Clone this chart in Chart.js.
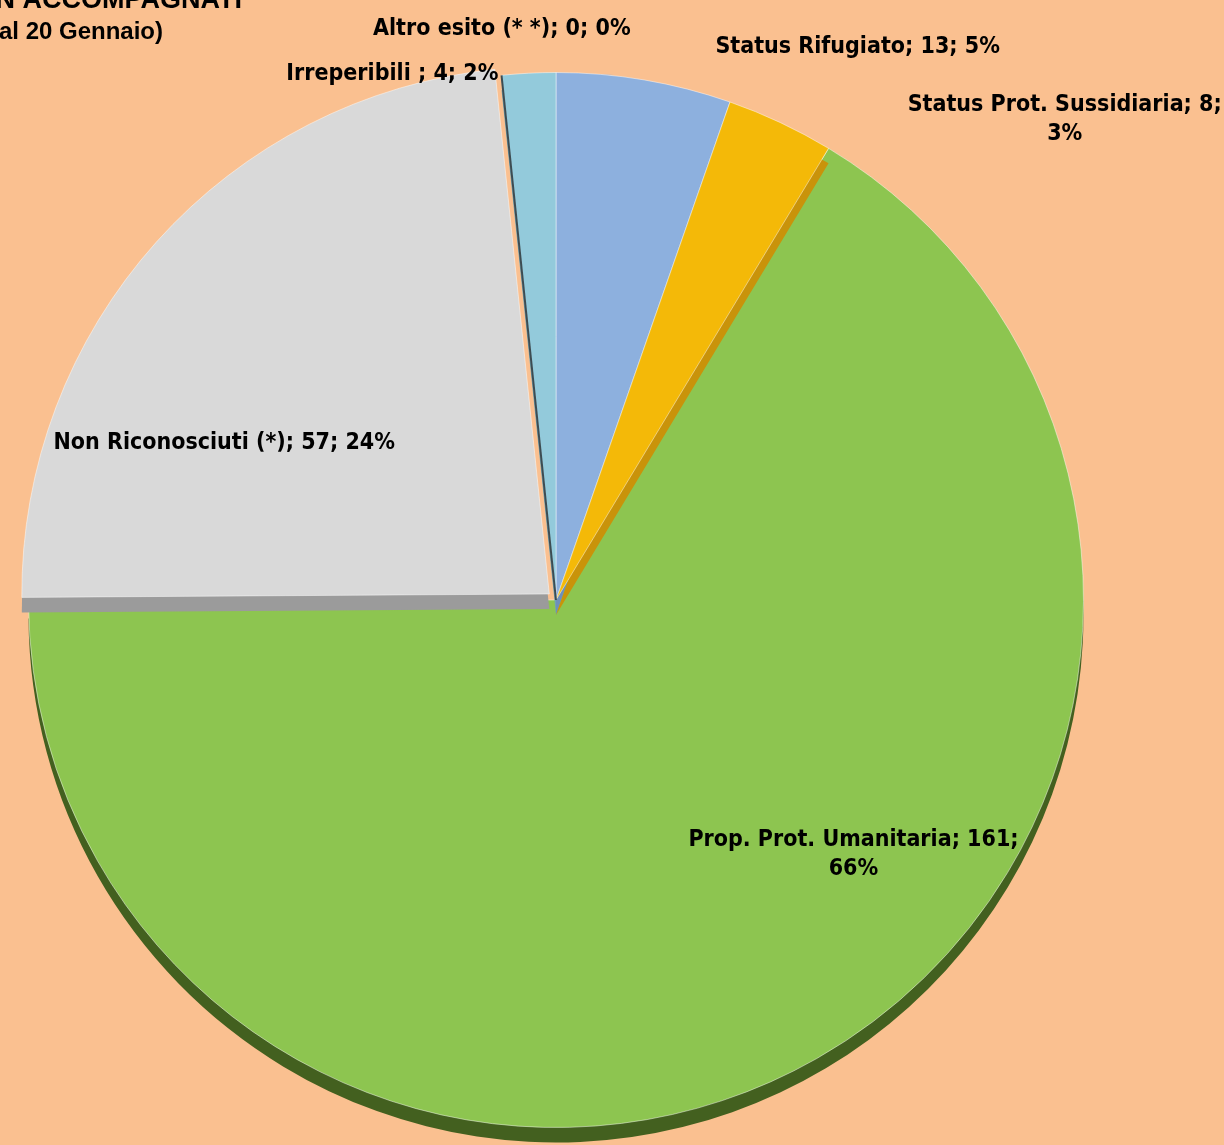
<!DOCTYPE html>
<html lang="it">
<head>
  <meta charset="UTF-8" />
  <title>Esiti minori non accompagnati</title>
  <script src="https://cdn.jsdelivr.net/npm/chart.js"></script>
  <style>
    body {
      margin: 0;
      background: #fac090;
    }
    #wrap {
      position: relative;
      width: 1224px;
      height: 1145px;
    }
  </style>
</head>
<body>

<div id="wrap">
  <canvas id="esitiChart"></canvas>
</div>

<script>
  // data, clockwise from 12 o'clock
  const categories = ['Status Rifugiato', 'Status Prot. Sussidiaria', 'Prop. Prot. Umanitaria',
                      'Non Riconosciuti (*)', 'Altro esito (* *)', 'Irreperibili '];
  const counts = [13, 8, 161, 57, 0, 4];
  const percents = ['5%', '3%', '66%', '24%', '0%', '2%'];
  const titleLines = ['ESITI MINORI NON ACCOMPAGNATI', '(dati al 20 Gennaio)'];

  // styles
  const sliceColors = ['#8db0de', '#f4b908', '#8dc550', '#d9d9d9', '#3d4c52', '#93cadb'];
  const sideColors  = ['#6e8fbb', '#c9930a', '#43601f', '#9b9b9b', '#3d4c52', '#6fa3b3'];
  const explode     = [0, 0, 0, 9, 0, 0];
  const drawOrder = [2, 0, 1, 3, 5, 4];
  const DEPTH = 15;
  const FONT = 'bold 23px "Liberation Sans Narrow", "DejaVu Sans Condensed", "Liberation Sans", sans-serif';

  // label anchor: [radius factor, dx, dy, split after 2nd ';']
  const labelAnchors = [
    [1.05, 209, -7, false],
    [1.05, 273, 21, true],
    [0.6, 141, -21, true],
    [0.6, -96, 54, false],
    [1.05, 3, -20, false],
    [1.05, -135, 27, false]
  ];

  const depth3d = {
    id: 'depth3d',
    beforeDatasetDraw(chart) {
      const ctx = chart.ctx;
      const arcs = chart.getDatasetMeta(0).data;
      drawOrder.forEach(i => {
        const arc = arcs[i];
        const p = arc.getProps(['x', 'y', 'startAngle', 'endAngle', 'outerRadius']);
        const mid = (p.startAngle + p.endAngle) / 2;
        ctx.save();
        ctx.translate(Math.cos(mid) * explode[i], Math.sin(mid) * explode[i]);
        if (p.endAngle - p.startAngle < 1e-6) {
          // zero slice: only a thin dark edge
          ctx.strokeStyle = sideColors[i];
          ctx.lineWidth = 2;
          ctx.beginPath();
          ctx.moveTo(p.x, p.y);
          ctx.lineTo(p.x + Math.cos(p.startAngle) * p.outerRadius, p.y + Math.sin(p.startAngle) * p.outerRadius);
          ctx.stroke();
          ctx.restore();
          return;
        }
        ctx.fillStyle = sideColors[i];
        ctx.beginPath();
        ctx.moveTo(p.x, p.y + DEPTH);
        ctx.arc(p.x, p.y + DEPTH, p.outerRadius, p.startAngle, p.endAngle);
        ctx.closePath();
        ctx.fill();
        arc.draw(ctx);
        ctx.restore();
      });
      return false;
    }
  };

  const sliceLabels = {
    id: 'sliceLabels',
    afterDatasetsDraw(chart) {
      const ctx = chart.ctx;
      const arcs = chart.getDatasetMeta(0).data;
      ctx.save();
      ctx.font = FONT;
      ctx.fillStyle = '#000';
      ctx.textAlign = 'center';
      ctx.textBaseline = 'middle';
      arcs.forEach((arc, i) => {
        const p = arc.getProps(['x', 'y', 'startAngle', 'endAngle', 'outerRadius']);
        const [k, dx, dy, split] = labelAnchors[i];
        const mid = (p.startAngle + p.endAngle) / 2;
        const cx = p.x + Math.cos(mid) * p.outerRadius * k + dx;
        const cy = p.y + Math.sin(mid) * p.outerRadius * k + dy;
        const lines = split
          ? [categories[i] + '; ' + counts[i] + ';', percents[i]]
          : [categories[i] + '; ' + counts[i] + '; ' + percents[i]];
        const lh = 29;
        lines.forEach((t, j) => {
          ctx.fillText(t, cx, cy + (j - (lines.length - 1) / 2) * lh);
        });
      });

      // title, partly off the left edge as in the original
      ctx.textAlign = 'right';
      ctx.font = 'bold 27px "Liberation Sans", Arial, sans-serif';
      ctx.fillText(titleLines[0], 242, 1);
      ctx.font = 'bold 24px "Liberation Sans", Arial, sans-serif';
      ctx.fillText(titleLines[1], 163, 32);
      ctx.restore();
    }
  };

  new Chart(document.getElementById('esitiChart'), {
    type: 'pie',
    data: {
      labels: categories,
      datasets: [{
        data: counts,
        backgroundColor: sliceColors,
        borderColor: 'rgba(255,255,255,0.45)',
        borderWidth: 1
      }]
    },
    options: {
      responsive: true,
      maintainAspectRatio: false,
      animation: false,
      layout: {
        padding: { left: 28, right: 140, top: 72, bottom: 17 }
      },
      plugins: {
        legend: { display: false },
        tooltip: { enabled: false }
      }
    },
    plugins: [depth3d, sliceLabels]
  });
</script>

</body>
</html>
